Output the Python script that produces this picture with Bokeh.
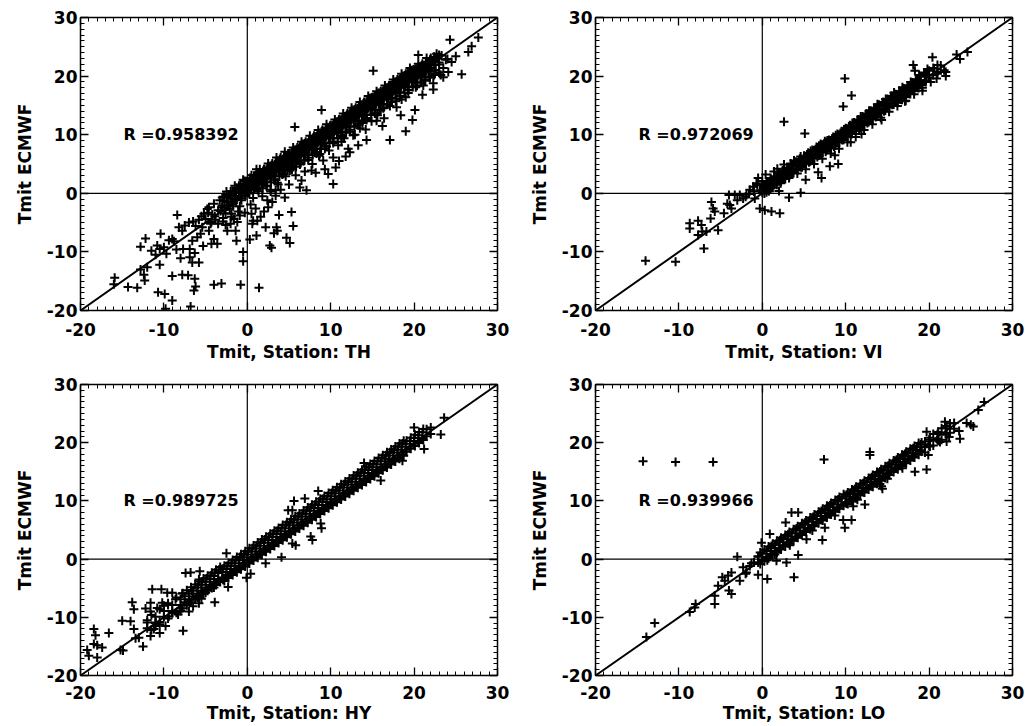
from bokeh.plotting import figure
from bokeh.layouts import gridplot
from bokeh.models import (Range1d, FixedTicker, LinearAxis, Span, Slope, Label,
                          CustomLabelingPolicy)
from bokeh.embed import file_html
from bokeh.resources import INLINE

stations = ["TH", "VI", "HY", "LO"]
r_values = [0.958392, 0.972069, 0.989725, 0.939966]
major_ticks = [-20, -10, 0, 10, 20, 30]
tick_labels = ["-20", "-10", "0", "10", "20", "30"]
minor_ticks = list(range(-20, 31))
y_title = "Tmit ECMWF"
x_title = "Tmit, Station: "

# ---- station TH: (x = station Tmit, y = ECMWF Tmit), scattered points ----
th_scatter = [
    (-15.9,-14.4),(-16.0,-15.5),(-14.3,-16.0),(-13.2,-16.1),(-12.8,-9.1),(-12.2,-7.7),(-12.4,-13.9),(-12.3,-14.9),
    (-12.0,-12.6),(-10.5,-12.2),(-10.7,-16.9),(-9.9,-17.2),(-9.0,-18.3),(-9.8,-19.7),(-10.4,-6.9),(-10.8,-8.9),
    (-10.5,-9.5),(-10.0,-9.2),(-9.7,-10.3),(-9.4,-8.0),(-9.0,-7.8),(-9.0,-14.1),(-8.4,-3.7),(-8.2,-5.8),
    (-7.8,-6.4),(-7.7,-9.5),(-7.8,-13.9),(-7.1,-14.0),(-6.8,-19.3),(-6.9,-9.5),(-6.9,-10.9),(-6.6,-11.8),
    (-6.3,-14.6),(-6.2,-15.9),(-6.4,-16.6),(-5.8,-11.8),(-6.6,-8.1),(-6.0,-7.5),(-5.6,-6.9),(-5.4,-5.8),
    (-5.2,-3.5),(-4.8,-2.7),(-4.6,-6.4),(-4.0,-7.8),(-3.6,-8.6),(-4.0,-15.6),(-3.1,-15.4),(-2.4,-6.4),
    (-1.6,-4.4),(-1.4,-6.4),(-1.3,-8.1),(-0.8,-15.6),(-0.5,-10.0),(-0.5,-11.6),(0.3,-7.9),(1.1,-7.2),
    (1.4,-16.1),(2.0,-3.1),(2.2,-5.8),(2.7,-8.9),(2.9,-9.3),(3.2,-6.8),(3.5,-5.8),(3.8,-3.7),(3.6,-6.4),
    (4.7,-7.6),(5.1,-8.5),(5.3,-3.2),(5.5,-5.6),(1.2,-4.7),(0.6,-5.2),(0.7,-4.7),
    (-7.5,-5.5),(-7.0,-5.0),(-6.5,-4.8),(-6.2,-5.6),(-5.8,-4.5),(-5.5,-3.9),(-5.0,-4.4),(-4.7,-3.3),
    (-4.3,-4.9),(-3.9,-3.9),(-3.5,-5.2),(-3.2,-3.0),(-2.9,-4.2),(-2.6,-5.4),(-2.0,-5.2),(-1.9,-3.5),
    (-1.2,-4.9),(-0.9,-3.8),(-0.3,-3.3),(0.5,-3.5),(1.0,-2.6),(1.6,-4.0),(2.5,-2.4),(3.0,-1.5),
    (-11.5,-9.8),(-11.0,-10.5),(-8.8,-8.2),(-8.5,-9.6),(-6.3,-10.2),(-5.3,-9.0),(-4.3,-8.6),(-8.0,-11.1),(-12.8,-13.0),
    (5.7,11.3),(8.9,14.2),(10.3,1.6),(9.7,3.3),(12.3,7.0),(14.3,9.1),(17.1,9.1),(19.0,10.6),(19.8,12.5),
    (20.1,14.2),(15.1,20.9),(20.5,23.6),(24.3,26.2),(25.7,20.3),(26.9,25.1),(26.5,24.1),(27.7,26.6),(22.7,23.8),
    (24.1,20.7),(24.5,22.4),(22.3,17.7),(17.9,14.7),(15.5,12.4),(12.7,9.9),(8.7,6.7),(7.7,3.9),(6.3,1.0),
    (7.1,0.5),(4.5,-0.7),(6.5,2.2),(8.2,3.5),(9.3,4.1),(11.0,5.5),(10.6,4.4),(13.3,8.2),(11.8,6.3),(16.2,11.5),
    (18.4,13.3),(21.0,16.8),(23.0,20.6),(24.0,22.9),(23.5,19.8),(25.0,23.4),(4.0,0.6),(5.0,1.5),(3.4,-0.4),
    (4.6,2.9),(5.8,3.1),(6.4,5.2),(6.9,3.7),(7.8,5.0),(8.6,6.4),(9.1,5.6),(9.8,7.3),(10.3,6.1),(10.9,8.2),
    (11.6,9.4),(12.1,7.6),(12.9,10.0),(13.5,11.1),(14.2,10.9),(14.9,12.3),(15.6,13.3),(16.4,12.8),(17.1,14.9),
    (17.8,15.7),(18.5,16.0),(19.3,17.1),(20.2,18.1),(21.1,18.4),(21.9,19.7),(22.5,20.4),(11.3,8.8),(8.1,6.9),
    (13.8,12.0),(16.0,14.2),(19.0,16.4),(3.6,1.8),(2.8,0.6),(5.1,3.9),(9.5,8.0),
]

# ---- station TH: points of the dense band ----
th_band = [
    (-4.6,-2.4),(-4.2,-3.6),(-4.0,-1.8),(-3.8,-4.5),(-3.5,-2.9),(-3.3,-1.2),(-4.4,-5.2),
    (-3.0,-2.1),(-2.8,-0.6),(-2.6,-3.4),(-2.4,-1.5),(-2.2,-0.2),(-2.9,-4.8),(-2.1,-2.6),
    (-2.0,-0.9),(-1.8,0.4),(-1.7,-2.2),(-1.5,-1.0),(-1.3,0.9),(-1.1,-3.1),(-1.9,-4.0),
    (-1.0,0.2),(-0.8,1.5),(-0.7,-1.2),(-0.5,0.8),(-0.3,2.1),(-0.2,-0.4),(-0.9,-2.2),
    (0.0,1.2),(0.2,0.1),(0.3,2.6),(0.5,1.6),(0.7,-0.8),(0.8,3.0),(0.4,-1.9),
    (1.0,2.0),(1.2,0.6),(1.3,3.5),(1.5,1.9),(1.7,2.8),(1.8,-0.5),(1.1,4.1),
    (2.0,2.4),(2.2,3.7),(2.3,1.2),(2.5,3.1),(2.7,4.6),(2.8,0.3),(2.4,-1.2),
    (3.0,3.6),(3.2,2.3),(3.3,4.9),(3.5,3.9),(3.7,1.5),(3.8,5.4),(3.4,0.5),
    (4.0,4.5),(4.2,3.2),(4.3,5.8),(4.5,4.1),(4.7,6.3),
    (5.0,5.6),(5.2,4.3),(5.3,6.9),(5.5,5.1),(5.7,7.4),
    (6.0,6.2),(6.2,7.6),(6.3,4.9),(6.5,6.8),(6.7,8.4),
    (7.0,7.3),(7.2,8.6),(7.3,5.7),(7.5,7.9),(7.7,9.2),
    (8.0,8.4),(8.2,9.6),(8.3,6.8),(8.5,8.8),(8.7,10.3),
    (9.0,9.1),(9.2,10.6),(9.3,7.6),(9.5,9.9),(9.7,11.2),
    (10.0,10.2),(10.2,11.5),(10.3,8.6),(10.5,10.7),(10.7,12.2),
    (11.0,11.0),(11.2,12.5),(11.3,9.6),(11.5,11.8),(11.7,13.1),
    (12.0,12.1),(12.2,13.4),(12.3,10.5),(12.5,12.6),(12.7,14.2),
    (13.0,13.0),(13.2,14.4),(13.3,11.6),(13.5,13.7),(13.7,15.1),
    (14.0,14.1),(14.2,15.3),(14.3,12.5),(14.5,14.6),(14.7,16.2),
    (15.0,15.0),(15.2,16.4),(15.3,13.6),(15.5,15.7),(15.7,17.1),
    (16.0,16.1),(16.2,17.3),(16.3,14.5),(16.5,16.6),(16.7,18.0),
    (17.0,17.0),(17.2,18.4),(17.3,15.6),(17.5,17.5),(17.7,19.0),
    (18.0,18.0),(18.2,19.3),(18.3,16.5),(18.5,18.6),(18.7,20.0),
    (19.0,19.0),(19.2,20.4),(19.3,17.6),(19.5,19.5),(19.7,21.0),
    (20.0,19.8),(20.2,21.2),(20.3,18.4),(20.5,20.3),(20.7,21.6),
    (21.0,20.6),(21.2,21.8),(21.3,19.2),(21.5,20.9),(21.7,22.0),
    (22.0,21.4),(22.2,22.5),(22.4,20.2),(22.6,21.0),(22.8,23.0),(22.3,18.8),
    (23.0,22.3),(23.3,23.5),(23.5,21.4),(23.8,22.8),(23.2,20.2),
    (0.6,1.9),(1.6,2.7),(2.6,3.3),(3.6,4.4),(4.6,5.3),(5.6,6.2),(6.6,7.3),(7.6,8.2),(8.6,9.4),(9.6,10.3),
    (10.6,11.3),(11.6,12.3),(12.6,13.2),(13.6,14.3),(14.6,15.2),(15.6,16.3),(16.6,17.2),(17.6,18.2),(18.6,19.1),
    (19.6,20.0),(20.6,20.8),(21.6,21.5),
    (0.9,0.8),(1.9,1.6),(2.9,2.8),(3.9,3.7),(4.9,4.6),(5.9,5.6),(6.9,6.5),(7.9,7.6),(8.9,8.5),(9.9,9.4),
    (10.9,10.4),(11.9,11.4),(12.9,12.3),(13.9,13.3),(14.9,14.4),(15.9,15.3),(16.9,16.4),(17.9,17.3),(18.9,18.3),
    (19.9,19.2),(20.9,20.1),
    (-3.0,-0.7),(-3.0,-2.4),(-2.75,-1.25),(-2.75,-2.85),(-2.5,0.3),(-2.5,-1.5),(-2.25,-0.35),(-2.25,-2.05),
    (-2.0,0.3),(-2.0,-1.4),(-1.75,-0.25),(-1.75,-1.85),(-1.5,1.3),(-1.5,-0.5),(-1.25,0.65),(-1.25,-1.05),
    (-1.0,1.3),(-1.0,-0.4),(-0.75,0.75),(-0.75,-0.85),(-0.5,2.3),(-0.5,0.5),(-0.25,1.65),(-0.25,-0.05),
    (0.0,2.1),(0.0,0.4),(0.25,1.55),(0.25,-0.05),(0.5,3.1),(0.5,1.3),(0.75,2.45),(0.75,0.75),
    (1.0,3.1),(1.0,1.4),(1.25,2.55),(1.25,0.95),(1.5,4.1),(1.5,2.3),(1.75,3.45),(1.75,1.75),
    (2.0,4.1),(2.0,2.4),(2.25,3.55),(2.25,1.95),(2.5,5.1),(2.5,3.3),(2.75,4.45),(2.75,2.75),
    (3.0,5.1),(3.0,3.4),(3.25,4.55),(3.25,2.95),(3.5,6.1),(3.5,4.3),(3.75,5.45),(3.75,3.75),
    (4.0,6.1),(4.0,4.4),(4.25,5.55),(4.25,3.95),(4.5,7.1),(4.5,5.3),(4.75,6.45),(4.75,4.75),
    (5.0,6.8),(5.0,5.1),(5.25,6.25),(5.25,4.65),(5.5,7.8),(5.5,6.0),(5.75,7.15),(5.75,5.45),
    (6.0,7.8),(6.0,6.1),(6.25,7.25),(6.25,5.65),(6.5,8.8),(6.5,7.0),(6.75,8.15),(6.75,6.45),
    (7.0,8.8),(7.0,7.1),(7.25,8.25),(7.25,6.65),(7.5,9.8),(7.5,8.0),(7.75,9.15),(7.75,7.45),
    (8.0,9.8),(8.0,8.1),(8.25,9.25),(8.25,7.65),(8.5,10.8),(8.5,9.0),(8.75,10.15),(8.75,8.45),
    (9.0,10.8),(9.0,9.1),(9.25,10.25),(9.25,8.65),(9.5,11.8),(9.5,10.0),(9.75,11.15),(9.75,9.45),
    (10.0,11.6),(10.0,9.9),(10.25,11.05),(10.25,9.45),(10.5,12.6),(10.5,10.8),(10.75,11.95),(10.75,10.25),
    (11.0,12.6),(11.0,10.9),(11.25,12.05),(11.25,10.45),(11.5,13.6),(11.5,11.8),(11.75,12.95),(11.75,11.25),
    (12.0,13.6),(12.0,11.9),(12.25,13.05),(12.25,11.45),(12.5,14.6),(12.5,12.8),(12.75,13.95),(12.75,12.25),
    (13.0,14.6),(13.0,12.9),(13.25,14.05),(13.25,12.45),(13.5,15.6),(13.5,13.8),(13.75,14.95),(13.75,13.25),
    (14.0,15.6),(14.0,13.9),(14.25,15.05),(14.25,13.45),(14.5,16.6),(14.5,14.8),(14.75,15.95),(14.75,14.25),
    (15.0,16.4),(15.0,14.7),(15.25,15.85),(15.25,14.25),(15.5,17.4),(15.5,15.6),(15.75,16.75),(15.75,15.05),
    (16.0,17.4),(16.0,15.7),(16.25,16.85),(16.25,15.25),(16.5,18.4),(16.5,16.6),(16.75,17.75),(16.75,16.05),
    (17.0,18.4),(17.0,16.7),(17.25,17.85),(17.25,16.25),(17.5,19.4),(17.5,17.6),(17.75,18.75),(17.75,17.05),
    (18.0,19.4),(18.0,17.7),(18.25,18.85),(18.25,17.25),(18.5,20.4),(18.5,18.6),(18.75,19.75),(18.75,18.05),
    (19.0,20.4),(19.0,18.7),(19.25,19.85),(19.25,18.25),(19.5,21.4),(19.5,19.6),(19.75,20.75),(19.75,19.05),
    (20.0,21.1),(20.0,19.4),(20.25,20.55),(20.25,18.95),(20.5,22.1),(20.5,20.3),(20.75,21.45),(20.75,19.75),
    (21.0,22.1),(21.0,20.4),(21.25,21.55),(21.25,19.95),(21.5,23.1),(21.5,21.3),(21.75,22.45),(21.75,20.75),
    (22.0,23.1),(22.0,21.4),(22.5,22.6),(22.5,21.0),(23.0,23.6),(23.0,22.0),
    (0.1,1.3),(0.6,1.8),(1.1,2.3),(1.6,2.8),(2.1,3.3),(2.6,3.8),(3.1,4.3),(3.6,4.8),(4.1,5.3),(4.6,5.8),
    (5.1,6.0),(5.6,6.5),(6.1,7.0),(6.6,7.5),(7.1,8.0),(7.6,8.5),(8.1,9.0),(8.6,9.5),(9.1,10.0),(9.6,10.5),
    (10.1,10.8),(10.6,11.3),(11.1,11.8),(11.6,12.3),(12.1,12.8),(12.6,13.3),(13.1,13.8),(13.6,14.3),(14.1,14.8),
    (14.6,15.3),(15.1,15.6),(15.6,16.1),(16.1,16.6),(16.6,17.1),(17.1,17.6),(17.6,18.1),(18.1,18.6),(18.6,19.1),
    (19.1,19.6),(19.6,20.1),(20.1,20.3),(20.6,20.8),(21.1,21.3),(21.6,21.8),(22.1,22.3),
    (1.35,0.35),(1.85,0.85),(2.35,1.35),(2.85,1.85),(3.35,2.35),(3.85,2.85),(4.35,3.35),(4.85,3.85),
    (5.35,4.05),(5.85,4.55),(6.35,5.05),(6.85,5.55),(7.35,6.05),(7.85,6.55),(8.35,7.05),(8.85,7.55),
    (9.35,8.05),(9.85,8.55),(10.35,8.85),(10.85,9.35),(11.35,9.85),(11.85,10.35),(12.35,10.85),(12.85,11.35),
    (13.35,11.85),(13.85,12.35),(14.35,12.85),(14.85,13.35),(15.35,13.65),(15.85,14.15),(16.35,14.65),
    (16.85,15.15),(17.35,15.65),(17.85,16.15),(18.35,16.65),(18.85,17.15),(19.35,17.65),(19.85,18.15),
    (20.35,18.35),(20.85,18.85),(21.35,19.35),(21.85,19.85),
    (0.4,2.3),(0.4,0.9),(0.9,2.8),(0.9,1.4),(1.4,3.3),(1.4,1.9),(1.9,3.8),(1.9,2.4),(2.4,4.3),(2.4,2.9),
    (2.9,4.8),(2.9,3.4),(3.4,5.3),(3.4,3.9),(3.9,5.8),(3.9,4.4),(4.4,6.3),(4.4,4.9),(4.9,6.8),(4.9,5.4),
    (5.4,7.0),(5.4,5.6),(5.9,7.5),(5.9,6.1),(6.4,8.0),(6.4,6.6),(6.9,8.5),(6.9,7.1),(7.4,9.0),(7.4,7.6),
    (7.9,9.5),(7.9,8.1),(8.4,10.0),(8.4,8.6),(8.9,10.5),(8.9,9.1),(9.4,11.0),(9.4,9.6),(9.9,11.5),(9.9,10.1),
    (10.4,11.8),(10.4,10.4),(10.9,12.3),(10.9,10.9),(11.4,12.8),(11.4,11.4),(11.9,13.3),(11.9,11.9),
    (12.4,13.8),(12.4,12.4),(12.9,14.3),(12.9,12.9),(13.4,14.8),(13.4,13.4),(13.9,15.3),(13.9,13.9),
    (14.4,15.8),(14.4,14.4),(14.9,16.3),(14.9,14.9),(15.4,16.6),(15.4,15.2),(15.9,17.1),(15.9,15.7),
    (16.4,17.6),(16.4,16.2),(16.9,18.1),(16.9,16.7),(17.4,18.6),(17.4,17.2),(17.9,19.1),(17.9,17.7),
    (18.4,19.6),(18.4,18.2),(18.9,20.1),(18.9,18.7),(19.4,20.6),(19.4,19.2),(19.9,21.1),(19.9,19.7),
    (20.4,21.3),(20.4,19.9),(20.9,21.8),(20.9,20.4),(21.4,22.3),(21.4,20.9),(21.9,22.8),(21.9,21.4),
    (22.4,23.3),(22.4,21.9),
]

# ---- station VI ----
vi_scatter = [
    (-14.0,-11.5),(-10.4,-11.7),(-7.0,-9.4),(-8.7,-6.0),(-8.7,-5.1),(-7.7,-4.7),(-7.3,-5.4),(-7.2,-6.5),
    (-7.7,-7.1),(-6.7,-6.5),(-5.3,-6.3),(-6.2,-4.3),(-6.1,-1.5),(-5.9,-2.6),(-5.7,-3.1),(-4.6,-3.4),
    (-3.9,-2.0),(-3.7,-2.6),(-4.0,-0.3),(-3.3,-0.3),(-2.7,-0.3),(-2.3,-0.9),(-1.9,-0.2),(-1.5,0.6),
    (-1.1,1.1),(-0.7,1.7),(-0.5,2.6),(-0.9,-0.9),(-0.3,-2.6),(0.3,-2.9),(1.1,-3.1),(2.1,-3.4),
    (3.2,-0.7),(4.6,0.1),(2.0,0.4),(2.6,12.2),(9.9,19.6),(10.7,16.7),(9.7,14.8),(10.6,8.7),(11.9,10.1),
    (9.1,5.0),(8.1,4.6),(8.7,6.5),(6.7,3.6),(7.1,2.6),(5.2,2.3),(5.1,10.2),(14.3,12.5),(17.1,15.7),
    (19.2,17.5),(20.9,19.6),(22.0,20.7),(23.7,22.9),(24.6,24.1),(23.3,23.7),(20.4,23.2),(18.1,21.9),
    (18.3,20.9),(19.1,18.5),(-4.2,-1.8),(-3.0,-1.2),(-2.0,-0.6),(-1.6,-0.1),(0.5,0.2),(1.0,0.8),
]

vi_band = [
    (-1.0,0.3),(-0.6,1.4),(-0.3,0.5),(0.0,2.1),(0.2,0.9),(0.4,3.2),(0.6,1.8),(0.8,0.4),(1.0,2.6),(1.2,1.5),
    (1.4,3.7),(1.6,2.2),(1.8,4.2),(2.0,2.9),(2.2,1.7),(2.4,3.8),(2.6,4.9),(2.8,3.2),(3.0,4.3),(3.2,2.6),
    (3.4,5.1),(3.6,3.9),(3.8,5.6),(4.0,4.6),(4.2,3.4),(4.4,5.5),(4.6,6.3),(4.8,4.8),(5.0,5.8),(5.2,4.1),
    (5.4,6.6),(5.6,5.3),(5.8,7.2),(6.0,6.4),(6.2,5.0),(6.4,7.4),(6.6,6.2),(6.8,8.1),(7.0,7.3),(7.2,5.9),
    (7.4,8.4),(7.6,7.1),(7.8,9.0),(8.0,8.2),(8.2,6.8),(8.4,9.3),(8.6,8.0),(8.8,9.9),(9.0,9.0),(9.2,7.6),
    (9.4,10.2),(9.6,9.1),(9.8,10.9),(10.0,10.0),(10.2,8.7),(10.4,11.2),(10.6,10.1),(10.8,12.0),(11.0,11.1),
    (11.2,9.6),(11.4,12.3),(11.6,11.0),(11.8,13.1),(12.0,12.1),(12.2,10.8),(12.4,13.3),(12.6,12.0),(12.8,14.1),
    (13.0,13.2),(13.2,11.8),(13.4,14.4),(13.6,13.0),(13.8,15.2),(14.0,14.1),(14.2,12.9),(14.4,15.5),(14.6,14.0),
    (14.8,16.1),(15.0,15.2),(15.2,13.9),(15.4,16.5),(15.6,15.1),(15.8,17.2),(16.0,16.2),(16.2,14.9),(16.4,17.4),
    (16.6,16.0),(16.8,18.1),(17.0,17.1),(17.2,15.8),(17.4,18.4),(17.6,17.2),(17.8,19.0),(18.0,18.2),(18.2,16.9),
    (18.4,19.4),(18.6,18.1),(18.8,20.2),(19.0,19.2),(19.2,18.0),(19.4,20.6),(19.6,19.3),(19.8,21.2),(20.0,20.1),
    (20.2,19.0),(20.6,21.3),(21.0,20.4),(21.4,21.8),(21.8,21.0),(22.0,20.0),
    (0.0,1.4),(0.0,0.2),(0.25,1.15),(0.25,-0.05),(0.5,1.9),(0.5,0.7),(0.75,1.65),(0.75,0.45),
    (1.0,2.4),(1.0,1.2),(1.25,2.15),(1.25,0.95),(1.5,2.9),(1.5,1.7),(1.75,2.65),(1.75,1.45),
    (2.0,3.4),(2.0,2.2),(2.25,3.15),(2.25,1.95),(2.5,3.9),(2.5,2.7),(2.75,3.65),(2.75,2.45),
    (3.0,4.4),(3.0,3.2),(3.25,4.15),(3.25,2.95),(3.5,4.9),(3.5,3.7),(3.75,4.65),(3.75,3.45),
    (4.0,5.4),(4.0,4.2),(4.25,5.15),(4.25,3.95),(4.5,5.9),(4.5,4.7),(4.75,5.65),(4.75,4.45),
    (5.0,6.4),(5.0,5.2),(5.25,6.15),(5.25,4.95),(5.5,6.9),(5.5,5.7),(5.75,6.65),(5.75,5.45),
    (6.0,7.4),(6.0,6.2),(6.25,7.15),(6.25,5.95),(6.5,7.9),(6.5,6.7),(6.75,7.65),(6.75,6.45),
    (7.0,8.4),(7.0,7.2),(7.25,8.15),(7.25,6.95),(7.5,8.9),(7.5,7.7),(7.75,8.65),(7.75,7.45),
    (8.0,9.1),(8.0,7.9),(8.25,8.85),(8.25,7.65),(8.5,9.6),(8.5,8.4),(8.75,9.35),(8.75,8.15),
    (9.0,10.1),(9.0,8.9),(9.25,9.85),(9.25,8.65),(9.5,10.6),(9.5,9.4),(9.75,10.35),(9.75,9.15),
    (10.0,11.1),(10.0,9.9),(10.25,10.85),(10.25,9.65),(10.5,11.6),(10.5,10.4),(10.75,11.35),(10.75,10.15),
    (11.0,12.1),(11.0,10.9),(11.25,11.85),(11.25,10.65),(11.5,12.6),(11.5,11.4),(11.75,12.35),(11.75,11.15),
    (12.0,13.1),(12.0,11.9),(12.25,12.85),(12.25,11.65),(12.5,13.6),(12.5,12.4),(12.75,13.35),(12.75,12.15),
    (13.0,14.1),(13.0,12.9),(13.25,13.85),(13.25,12.65),(13.5,14.6),(13.5,13.4),(13.75,14.35),(13.75,13.15),
    (14.0,15.1),(14.0,13.9),(14.25,14.85),(14.25,13.65),(14.5,15.6),(14.5,14.4),(14.75,15.35),(14.75,14.15),
    (15.0,16.1),(15.0,14.9),(15.25,15.85),(15.25,14.65),(15.5,16.6),(15.5,15.4),(15.75,16.35),(15.75,15.15),
    (16.0,16.9),(16.0,15.7),(16.25,16.65),(16.25,15.45),(16.5,17.4),(16.5,16.2),(16.75,17.15),(16.75,15.95),
    (17.0,17.9),(17.0,16.7),(17.25,17.65),(17.25,16.45),(17.5,18.4),(17.5,17.2),(17.75,18.15),(17.75,16.95),
    (18.0,18.9),(18.0,17.7),(18.25,18.65),(18.25,17.45),(18.5,19.4),(18.5,18.2),(18.75,19.15),(18.75,17.95),
    (19.0,19.9),(19.0,18.7),(19.5,20.4),(19.5,19.2),(20.0,20.9),(20.0,19.7),(20.5,21.4),(20.5,20.2),
    (21.0,21.9),(21.0,20.7),
    (2.6,3.7),(2.6,2.5),(3.6,4.7),(3.6,3.5),(4.6,5.7),(4.6,4.5),(5.6,6.7),(5.6,5.5),(6.6,7.7),(6.6,6.5),
    (7.6,8.7),(7.6,7.5),(8.6,9.4),(8.6,8.2),(9.6,10.4),(9.6,9.2),(10.6,11.4),(10.6,10.2),(11.6,12.4),(11.6,11.2),
    (12.6,13.4),(12.6,12.2),(13.6,14.4),(13.6,13.2),(14.6,15.4),(14.6,14.2),(15.6,16.4),(15.6,15.2),
    (16.6,17.2),(16.6,16.0),(17.6,18.2),(17.6,17.0),(18.6,19.2),(18.6,18.0),(19.6,20.2),(19.6,19.0),
]

# ---- station HY ----
hy_scatter = [
    (-19.2,-15.6),(-19.0,-16.6),(-18.4,-12.0),(-18.2,-13.1),(-18.4,-14.6),(-18.0,-14.8),(-17.4,-15.2),
    (-18.0,-16.9),(-16.6,-12.7),(-15.2,-15.6),(-14.9,-15.7),(-15.0,-10.6),(-14.0,-10.7),(-13.8,-7.4),
    (-13.6,-8.6),(-13.6,-12.0),(-13.4,-13.6),(-12.5,-15.0),(-13.0,-13.5),(-12.2,-8.5),(-11.4,-5.2),
    (-10.3,-5.2),(-11.6,-7.5),(-11.6,-13.2),(-10.5,-12.7),(-11.0,-11.5),(-10.2,-7.5),(-9.6,-5.8),
    (-9.0,-5.8),(-9.4,-9.8),(-7.7,-12.3),(-8.0,-8.9),(-7.4,-2.4),(-6.8,-2.3),(-5.7,-2.1),(-5.8,-3.5),
    (-3.9,-7.4),(-2.3,-4.8),(-2.5,1.0),(-0.1,-3.2),(0.4,-2.5),(2.2,-0.7),(4.1,0.3),(4.9,8.4),(5.4,8.4),
    (5.6,10.0),(6.9,10.4),(8.5,11.7),(8.8,6.1),(8.9,5.3),(7.6,3.9),(7.8,3.3),(5.4,2.7),(5.8,2.4),
    (14.0,16.5),(16.0,13.5),(21.2,18.9),(23.2,21.4),(23.6,24.3),(20.0,22.6),(17.0,17.2),(18.6,16.9),
    (-9.0,-9.3),(-8.0,-8.5),(-7.0,-7.3),(-6.0,-6.6),(-5.0,-5.8),(-4.0,-4.9),(-5.5,-6.8),(-6.5,-8.1),
    (-10.0,-8.0),(-11.0,-11.0),(-12.0,-10.5),(-11.6,-9.0),(-11.2,-12.0),(-10.8,-8.4),(-10.5,-10.8),
    (-9.8,-11.5),(-9.5,-7.9),(-8.6,-6.9),(-8.3,-9.5),(-7.8,-5.9),(-7.0,-9.0),(-6.7,-5.4),(-5.8,-7.6),
]

hy_band = [
    (-12.0,-10.9),(-12.0,-11.9),(-11.5,-9.6),(-11.5,-12.2),(-11.0,-9.9),(-11.0,-10.9),(-10.5,-8.6),(-10.5,-11.2),
    (-10.0,-8.9),(-10.0,-9.9),(-9.5,-7.6),(-9.5,-10.2),(-9.0,-7.9),(-9.0,-8.9),(-8.5,-6.6),(-8.5,-9.2),
    (-8.0,-6.9),(-8.0,-7.9),(-7.75,-5.85),(-7.75,-8.45),(-7.5,-6.4),(-7.5,-7.4),(-7.25,-5.35),(-7.25,-7.95),
    (-7.0,-5.9),(-7.0,-6.9),(-6.75,-4.85),(-6.75,-7.45),(-6.5,-5.4),(-6.5,-6.4),(-6.25,-4.35),(-6.25,-6.95),
    (-6.0,-4.9),(-6.0,-5.9),(-5.75,-3.85),(-5.75,-6.45),(-5.5,-4.4),(-5.5,-5.4),(-5.25,-3.35),(-5.25,-5.95),
    (-5.0,-3.9),(-5.0,-4.9),(-4.75,-2.85),(-4.75,-5.45),(-4.5,-3.4),(-4.5,-4.4),(-4.25,-2.35),(-4.25,-4.95),
    (-4.0,-2.9),(-4.0,-3.9),(-3.75,-1.85),(-3.75,-4.45),(-3.5,-2.4),(-3.5,-3.4),(-3.25,-1.35),(-3.25,-3.95),
    (-3.0,-2.2),(-3.0,-3.2),(-2.75,-1.15),(-2.75,-3.75),(-2.5,-1.7),(-2.5,-2.7),(-2.25,-0.65),(-2.25,-3.25),
    (-2.0,-1.2),(-2.0,-2.2),(-1.75,-0.15),(-1.75,-2.75),(-1.5,-0.7),(-1.5,-1.7),(-1.25,0.35),(-1.25,-2.25),
    (-1.0,-0.2),(-1.0,-1.2),(-0.75,0.85),(-0.75,-1.75),(-0.5,0.3),(-0.5,-0.7),(-0.25,1.35),(-0.25,-1.25),
    (0.0,0.8),(0.0,-0.2),(0.25,1.85),(0.25,-0.75),(0.5,1.3),(0.5,0.3),(0.75,2.35),(0.75,-0.25),
    (1.0,1.8),(1.0,0.8),(1.25,2.85),(1.25,0.25),(1.5,2.3),(1.5,1.3),(1.75,3.35),(1.75,0.75),
    (2.0,2.8),(2.0,1.8),(2.25,3.85),(2.25,1.25),(2.5,3.3),(2.5,2.3),(2.75,4.35),(2.75,1.75),
    (3.0,3.8),(3.0,2.8),(3.25,4.85),(3.25,2.25),(3.5,4.3),(3.5,3.3),(3.75,5.35),(3.75,2.75),
    (4.0,4.8),(4.0,3.8),(4.25,5.85),(4.25,3.25),(4.5,5.3),(4.5,4.3),(4.75,6.35),(4.75,3.75),
    (5.0,5.8),(5.0,4.8),(5.25,6.85),(5.25,4.25),(5.5,6.3),(5.5,5.3),(5.75,7.35),(5.75,4.75),
    (6.0,6.8),(6.0,5.8),(6.25,7.85),(6.25,5.25),(6.5,7.3),(6.5,6.3),(6.75,8.35),(6.75,5.75),
    (7.0,7.8),(7.0,6.8),(7.25,8.85),(7.25,6.25),(7.5,8.3),(7.5,7.3),(7.75,9.35),(7.75,6.75),
    (8.0,8.8),(8.0,7.8),(8.25,9.85),(8.25,7.25),(8.5,9.3),(8.5,8.3),(8.75,10.35),(8.75,7.75),
    (9.0,9.8),(9.0,8.8),(9.25,10.85),(9.25,8.25),(9.5,10.3),(9.5,9.3),(9.75,11.35),(9.75,8.75),
    (10.0,10.8),(10.0,9.8),(10.25,11.85),(10.25,9.25),(10.5,11.3),(10.5,10.3),(10.75,12.35),(10.75,9.75),
    (11.0,11.8),(11.0,10.8),(11.25,12.85),(11.25,10.25),(11.5,12.3),(11.5,11.3),(11.75,13.35),(11.75,10.75),
    (12.0,12.8),(12.0,11.8),(12.25,13.85),(12.25,11.25),(12.5,13.3),(12.5,12.3),(12.75,14.35),(12.75,11.75),
    (13.0,13.8),(13.0,12.8),(13.25,14.85),(13.25,12.25),(13.5,14.3),(13.5,13.3),(13.75,15.35),(13.75,12.75),
    (14.0,14.8),(14.0,13.8),(14.25,15.85),(14.25,13.25),(14.5,15.3),(14.5,14.3),(14.75,16.35),(14.75,13.75),
    (15.0,15.8),(15.0,14.8),(15.25,16.85),(15.25,14.25),(15.5,16.3),(15.5,15.3),(15.75,17.35),(15.75,14.75),
    (16.0,16.8),(16.0,15.8),(16.25,17.85),(16.25,15.25),(16.5,17.3),(16.5,16.3),(16.75,18.35),(16.75,15.75),
    (17.0,17.8),(17.0,16.8),(17.25,18.85),(17.25,16.25),(17.5,18.3),(17.5,17.3),(17.75,19.35),(17.75,16.75),
    (18.0,18.8),(18.0,17.8),(18.25,19.85),(18.25,17.25),(18.5,19.3),(18.5,18.3),(18.75,20.35),(18.75,17.75),
    (19.0,19.8),(19.0,18.8),(19.5,20.3),(19.5,19.3),(20.0,20.8),(20.0,19.8),(20.5,21.3),(20.5,20.3),
    (21.0,21.8),(21.0,20.8),(21.5,22.3),(21.5,21.1),(22.0,22.6),(22.0,21.5),
    (-5.9,-4.35),(-5.9,-6.25),(-5.4,-3.85),(-5.4,-5.75),(-4.9,-3.35),(-4.9,-5.25),(-4.4,-2.85),(-4.4,-4.75),
    (-3.9,-2.35),(-3.9,-4.25),(-3.4,-1.85),(-3.4,-3.75),(-2.9,-1.65),(-2.9,-3.55),(-2.4,-1.15),(-2.4,-3.05),
    (-1.9,-0.65),(-1.9,-2.55),(-1.4,-0.15),(-1.4,-2.05),(-0.9,0.35),(-0.9,-1.55),(-0.4,0.85),(-0.4,-1.05),
    (0.1,1.35),(0.1,-0.55),(0.6,1.85),(0.6,-0.05),(1.1,2.35),(1.1,0.45),(1.6,2.85),(1.6,0.95),
    (2.1,3.35),(2.1,1.45),(2.6,3.85),(2.6,1.95),(3.1,4.35),(3.1,2.45),(3.6,4.85),(3.6,2.95),
    (4.1,5.35),(4.1,3.45),(4.6,5.85),(4.6,3.95),(5.1,6.35),(5.1,4.45),(5.6,6.85),(5.6,4.95),
    (6.1,7.35),(6.1,5.45),(6.6,7.85),(6.6,5.95),(7.1,8.35),(7.1,6.45),(7.6,8.85),(7.6,6.95),
    (8.1,9.35),(8.1,7.45),(8.6,9.85),(8.6,7.95),(9.1,10.35),(9.1,8.45),(9.6,10.85),(9.6,8.95),
    (10.1,11.35),(10.1,9.45),(10.6,11.85),(10.6,9.95),(11.1,12.35),(11.1,10.45),(11.6,12.85),(11.6,10.95),
    (12.1,13.35),(12.1,11.45),(12.6,13.85),(12.6,11.95),(13.1,14.35),(13.1,12.45),(13.6,14.85),(13.6,12.95),
    (14.1,15.35),(14.1,13.45),(14.6,15.85),(14.6,13.95),(15.1,16.35),(15.1,14.45),(15.6,16.85),(15.6,14.95),
    (16.1,17.35),(16.1,15.45),(16.6,17.85),(16.6,15.95),(17.1,18.35),(17.1,16.45),(17.6,18.85),(17.6,16.95),
    (18.1,19.35),(18.1,17.45),(18.6,19.85),(18.6,17.95),(19.1,20.35),(19.1,18.45),(19.6,20.85),(19.6,18.95),
    (20.1,21.35),(20.1,19.45),(20.6,21.85),(20.6,19.95),(21.1,22.35),(21.1,20.45),
]

# ---- station LO ----
lo_scatter = [
    (-14.3,16.8),(-10.4,16.7),(-5.9,16.7),(7.4,17.1),(-12.9,-11.0),(-13.9,-13.4),(-8.7,-9.1),(-8.1,-8.3),
    (-8.0,-7.7),(-5.7,-7.7),(-5.7,-6.3),(-5.3,-4.6),(-4.8,-3.1),(-4.5,-3.7),(-4.0,-5.4),(-3.7,-6.0),
    (-4.1,-2.8),(-3.7,-2.3),(-3.0,0.4),(-2.7,-3.7),(-2.3,-1.4),(-1.9,-2.3),(-1.3,-0.7),(-0.5,-2.7),
    (0.6,-3.4),(3.8,-3.1),(2.9,-0.6),(4.3,0.7),(1.7,-0.3),(-0.1,2.8),(0.9,4.3),(2.8,6.3),(3.5,8.0),
    (4.3,8.0),(5.3,3.4),(7.2,3.3),(7.5,5.4),(7.9,8.3),(9.7,6.7),(9.9,5.4),(10.7,6.7),(10.9,9.1),(12.3,9.4),
    (12.9,18.4),(12.9,17.9),(14.3,12.5),(14.4,12.1),(18.3,15.0),(19.7,15.4),(19.9,17.9),(19.7,21.9),
    (22.1,20.2),(23.7,20.7),(25.3,22.8),(25.0,23.1),(24.5,23.4),(25.9,25.6),(26.6,27.0),(21.9,23.6),
    (-1.0,-0.6),(-1.5,-1.2),(-2.0,-2.5),(-0.5,0.5),(0.6,-0.2),(1.5,0.8),(3.3,2.4),(6.0,4.9),(8.7,7.5),
    (11.4,10.2),(14.1,12.9),(15.0,13.8),(16.8,15.6),(19.5,18.3),(21.3,20.1),(22.4,21.0),(23.6,22.0),
]

lo_band = [
    (-0.5,0.4),(-0.5,-0.6),(-0.25,1.15),(-0.25,-0.85),(0.0,0.9),(0.0,-0.1),(0.25,1.65),(0.25,-0.35),
    (0.5,1.4),(0.5,0.4),(0.75,2.15),(0.75,0.15),(1.0,1.9),(1.0,0.9),(1.25,2.65),(1.25,0.65),
    (1.5,2.4),(1.5,1.4),(1.75,3.15),(1.75,1.15),(2.0,2.9),(2.0,1.9),(2.25,3.65),(2.25,1.65),
    (2.5,3.4),(2.5,2.4),(2.75,4.15),(2.75,2.15),(3.0,3.9),(3.0,2.9),(3.25,4.65),(3.25,2.65),
    (3.5,4.4),(3.5,3.4),(3.75,5.15),(3.75,3.15),(4.0,4.9),(4.0,3.9),(4.25,5.65),(4.25,3.65),
    (4.5,5.4),(4.5,4.4),(4.75,6.15),(4.75,4.15),(5.0,5.9),(5.0,4.9),(5.25,6.65),(5.25,4.65),
    (5.5,6.4),(5.5,5.4),(5.75,7.15),(5.75,5.15),(6.0,6.9),(6.0,5.9),(6.25,7.65),(6.25,5.65),
    (6.5,7.4),(6.5,6.4),(6.75,8.15),(6.75,6.15),(7.0,7.9),(7.0,6.9),(7.25,8.65),(7.25,6.65),
    (7.5,8.4),(7.5,7.4),(7.75,9.15),(7.75,7.15),(8.0,8.9),(8.0,7.9),(8.25,9.65),(8.25,7.65),
    (8.5,9.4),(8.5,8.4),(8.75,10.15),(8.75,8.15),(9.0,9.9),(9.0,8.9),(9.25,10.65),(9.25,8.65),
    (9.5,10.4),(9.5,9.4),(9.75,11.15),(9.75,9.15),(10.0,10.7),(10.0,9.7),(10.25,11.45),(10.25,9.45),
    (10.5,11.2),(10.5,10.2),(10.75,11.95),(10.75,9.95),(11.0,11.7),(11.0,10.7),(11.25,12.45),(11.25,10.45),
    (11.5,12.2),(11.5,11.2),(11.75,12.95),(11.75,10.95),(12.0,12.7),(12.0,11.7),(12.25,13.45),(12.25,11.45),
    (12.5,13.2),(12.5,12.2),(12.75,13.95),(12.75,11.95),(13.0,13.7),(13.0,12.7),(13.25,14.45),(13.25,12.45),
    (13.5,14.2),(13.5,13.2),(13.75,14.95),(13.75,12.95),(14.0,14.7),(14.0,13.7),(14.25,15.45),(14.25,13.45),
    (14.5,15.2),(14.5,14.2),(14.75,15.95),(14.75,13.95),(15.0,15.7),(15.0,14.7),(15.25,16.45),(15.25,14.45),
    (15.5,16.2),(15.5,15.2),(15.75,16.95),(15.75,14.95),(16.0,16.7),(16.0,15.7),(16.25,17.45),(16.25,15.45),
    (16.5,17.2),(16.5,16.2),(16.75,17.95),(16.75,15.95),(17.0,17.7),(17.0,16.7),(17.25,18.45),(17.25,16.45),
    (17.5,18.2),(17.5,17.2),(17.75,18.95),(17.75,16.95),(18.0,18.7),(18.0,17.7),(18.25,19.45),(18.25,17.45),
    (18.5,19.2),(18.5,18.2),(18.75,19.95),(18.75,17.95),(19.0,19.7),(19.0,18.7),(19.5,20.2),(19.5,19.2),
    (20.0,20.5),(20.0,19.5),(20.5,21.5),(20.5,19.5),(21.0,21.5),(21.0,20.5),(21.5,22.5),(21.5,20.5),
    (22.0,22.5),(22.0,21.5),(22.5,23.3),(22.5,21.7),(23.0,23.4),(23.0,22.4),
    (1.1,2.25),(1.1,0.75),(2.1,3.25),(2.1,1.75),(3.1,4.25),(3.1,2.75),(4.1,5.25),(4.1,3.75),
    (5.1,6.25),(5.1,4.75),(6.1,7.25),(6.1,5.75),(7.1,8.25),(7.1,6.75),(8.1,9.25),(8.1,7.75),
    (9.1,10.25),(9.1,8.75),(10.1,11.05),(10.1,9.55),(11.1,12.05),(11.1,10.55),(12.1,13.05),(12.1,11.55),
    (13.1,14.05),(13.1,12.55),(14.1,15.05),(14.1,13.55),(15.1,16.05),(15.1,14.55),(16.1,17.05),(16.1,15.55),
    (17.1,18.05),(17.1,16.55),(18.1,19.05),(18.1,17.55),(19.1,20.05),(19.1,18.55),(20.1,20.85),(20.1,19.35),
    (21.1,21.85),(21.1,20.35),(22.1,22.85),(22.1,21.35),
]

all_points = [th_scatter + th_band, vi_scatter + vi_band,
              hy_scatter + hy_band, lo_scatter + lo_band]

FONT = "DejaVu Sans"
FRAME_W = 417


def style_axis(ax, show_labels):
    ax.ticker = FixedTicker(ticks=major_ticks, minor_ticks=minor_ticks)
    ax.axis_line_width = 1.5
    ax.axis_line_color = "black"
    ax.major_tick_in = 8
    ax.major_tick_out = 0
    ax.minor_tick_in = 4
    ax.minor_tick_out = 0
    ax.major_tick_line_width = 1.3
    ax.minor_tick_line_width = 1
    ax.major_tick_line_color = "black"
    ax.minor_tick_line_color = "black"
    ax.major_label_overrides = dict(zip(major_ticks, tick_labels))
    ax.major_label_text_font = FONT
    ax.major_label_text_font_style = "bold"
    ax.major_label_text_color = "black"
    if show_labels:
        ax.major_label_text_font_size = "17px"
    else:
        ax.major_label_text_font_size = "0px"
        ax.major_label_policy = CustomLabelingPolicy(code="return []")
        ax.major_label_standoff = 0


def make_panel(points, station, r, left_border, right_border, top_border,
               bottom_border, frame_h, tick_standoff, label_standoff):
    p = figure(frame_width=FRAME_W, frame_height=frame_h,
               x_range=Range1d(-20, 30), y_range=Range1d(-20, 30),
               output_backend="svg", toolbar_location=None,
               min_border_left=left_border, min_border_right=right_border,
               min_border_top=top_border, min_border_bottom=bottom_border)
    p.grid.visible = False
    p.outline_line_color = None
    p.background_fill_color = "white"
    p.border_fill_color = "white"

    for ax in (p.xaxis[0], p.yaxis[0]):
        style_axis(ax, True)
        ax.axis_label_text_font = FONT
        ax.axis_label_text_font_style = "bold"
        ax.axis_label_text_font_size = "17px"
        ax.axis_label_text_color = "black"
    p.xaxis[0].axis_label = x_title + station
    p.yaxis[0].axis_label = y_title
    p.xaxis[0].major_label_standoff = tick_standoff
    p.xaxis[0].axis_label_standoff = label_standoff
    p.yaxis[0].major_label_standoff = 3
    p.yaxis[0].axis_label_standoff = 9

    top_ax = LinearAxis()
    right_ax = LinearAxis()
    style_axis(top_ax, False)
    style_axis(right_ax, False)
    p.add_layout(top_ax, "above")
    p.add_layout(right_ax, "right")

    p.add_layout(Span(location=0, dimension="width", line_color="black", line_width=1.2))
    p.add_layout(Span(location=0, dimension="height", line_color="black", line_width=1.2))
    p.add_layout(Slope(gradient=1, y_intercept=0, line_color="black", line_width=2))

    xs = [pt[0] for pt in points]
    ys = [pt[1] for pt in points]
    p.scatter(xs, ys, marker="cross", size=9, line_color="black", line_width=2)

    p.add_layout(Label(x=-14.85, y=10.1, text="R =%.6f" % r,
                       text_font=FONT, text_font_style="bold", text_font_size="16px",
                       text_color="black", text_baseline="alphabetic", text_align="left"))
    return p


p1 = make_panel(all_points[0], stations[0], r_values[0], 80, 26, 17, 65, 293, 12, 3)
p2 = make_panel(all_points[1], stations[1], r_values[1], 72, 13, 17, 65, 293, 12, 3)
p3 = make_panel(all_points[2], stations[2], r_values[2], 80, 26, 9, 51, 291, 10, 1)
p4 = make_panel(all_points[3], stations[3], r_values[3], 72, 13, 9, 51, 291, 10, 1)

grid = gridplot([[p1, p2], [p3, p4]], toolbar_location=None)

open("out.html", "w").write(file_html(grid, INLINE))
